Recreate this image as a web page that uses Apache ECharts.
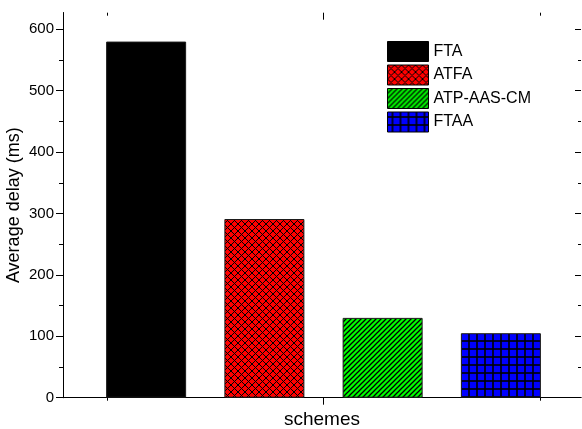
<!DOCTYPE html>
<html>
<head>
<meta charset="utf-8">
<script src="https://cdn.jsdelivr.net/npm/echarts@6/dist/echarts.min.js"></script>
<style>
  html, body { margin: 0; padding: 0; background: #fff; }
  #chart { width: 582px; height: 429px; }
</style>
</head>
<body>
<div id="chart"></div>
<script>
// Average delay per scheme
const schemes = ['FTA', 'ATFA', 'ATP-AAS-CM', 'FTAA'];
const delayMs = [580, 291, 130, 105];
const yTicks = [0, 100, 200, 300, 400, 500, 600];

const FONT = '"Liberation Sans", Arial, sans-serif';

// Hatch fills drawn on small tiles and repeated
function tile(size, bg, draw) {
  const c = document.createElement('canvas');
  c.width = size; c.height = size;
  const g = c.getContext('2d');
  g.fillStyle = bg;
  g.fillRect(0, 0, size, size);
  g.strokeStyle = '#000';
  draw(g, size);
  return { image: c, repeat: 'repeat' };
}
const fills = [
  '#000000',
  tile(7, '#ff0000', (g, s) => {
    g.lineWidth = 1;
    for (const k of [-s, 0, s]) {
      g.beginPath(); g.moveTo(-1, -1 + k); g.lineTo(s + 1, s + 1 + k); g.stroke();
      g.beginPath(); g.moveTo(-1, s + 1 + k); g.lineTo(s + 1, -1 + k); g.stroke();
    }
  }),
  tile(5, '#00ff00', (g, s) => {
    g.lineWidth = 1.3;
    for (const k of [-s, 0, s]) {
      g.beginPath(); g.moveTo(-1, s + 1 + k); g.lineTo(s + 1, -1 + k); g.stroke();
    }
  }),
  tile(8, '#0000ff', (g, s) => {
    g.lineWidth = 1.6;
    g.beginPath(); g.moveTo(5, 0); g.lineTo(5, s); g.stroke();
    g.beginPath(); g.moveTo(0, 5); g.lineTo(s, 5); g.stroke();
  })
];

const lineStyle = { color: '#000', width: 1 };
const G_TOP = 12.7, G_BOTTOM = 31.3, Y600_TOP = 29.3;
const hiddenValue = (gridIndex) => ({ gridIndex, type: 'value', min: 0, max: 1, show: false });
const box = (left, right, top) => ({ left, right, top, bottom: G_BOTTOM, outerBoundsMode: 'none', containLabel: false });

const chart = echarts.init(document.getElementById('chart'), null, { renderer: 'canvas' });

const series = schemes.map((name, i) => ({
  name,
  type: 'bar',
  xAxisIndex: 6,
  yAxisIndex: 4,
  stack: 'all',
  barWidth: 80,
  itemStyle: { color: fills[i], borderColor: '#1a1a1a', borderWidth: 1 },
  data: schemes.map((_, j) => (j === i ? delayMs[i] : '-'))
}));

chart.setOption({
  animation: false,
  backgroundColor: '#fff',
  textStyle: { fontFamily: FONT },
  grid: [
    box(63, 1, G_TOP),        // 0: frame box
    box(63, 1, Y600_TOP),     // 1: y scale
    box(107, 42, G_TOP),      // 2: x ticks
    box(87, 22, Y600_TOP)     // 3: bars
  ],
  xAxis: [
    { gridIndex: 0, type: 'value', position: 'bottom', min: 0, max: 1,
      axisLine: { show: true, lineStyle }, axisTick: { show: false }, axisLabel: { show: false },
      splitLine: { show: false },
      name: 'schemes', nameLocation: 'middle', nameGap: 13,
      nameTextStyle: { fontSize: 19, color: '#000', fontFamily: FONT, verticalAlign: 'top' } },
    { gridIndex: 0, type: 'value', position: 'top', min: 0, max: 1,
      axisLine: { show: true, lineStyle }, axisTick: { show: false }, axisLabel: { show: false },
      splitLine: { show: false } },
    // bottom ticks: long in the middle, short at both ends
    { gridIndex: 2, type: 'category', position: 'bottom', boundaryGap: false, data: ['', '', ''],
      axisLine: { show: false }, axisLabel: { show: false },
      axisTick: { show: true, length: 7, lineStyle, interval: (i) => i === 1 } },
    { gridIndex: 2, type: 'category', position: 'bottom', boundaryGap: false, data: ['', '', ''],
      axisLine: { show: false }, axisLabel: { show: false },
      axisTick: { show: true, length: 3, lineStyle, interval: (i) => i !== 1 } },
    // top ticks, pointing inward
    { gridIndex: 2, type: 'category', position: 'top', boundaryGap: false, data: ['', '', ''],
      axisLine: { show: false }, axisLabel: { show: false },
      axisTick: { show: true, inside: true, length: 7, lineStyle, interval: (i) => i === 1 } },
    { gridIndex: 2, type: 'category', position: 'top', boundaryGap: false, data: ['', '', ''],
      axisLine: { show: false }, axisLabel: { show: false },
      axisTick: { show: true, inside: true, length: 3, lineStyle, interval: (i) => i !== 1 } },
    // bars
    { gridIndex: 3, type: 'category', data: schemes, show: false },
    hiddenValue(1)
  ],
  yAxis: [
    { gridIndex: 0, type: 'value', position: 'left', min: 0, max: 1,
      axisLine: { show: true, lineStyle }, axisTick: { show: false }, axisLabel: { show: false },
      splitLine: { show: false },
      name: 'Average delay (ms)', nameLocation: 'middle', nameGap: 40,
      nameTextStyle: { fontSize: 18, color: '#000', fontFamily: FONT } },
    { gridIndex: 0, type: 'value', position: 'right', min: 0, max: 1,
      axisLine: { show: true, lineStyle }, axisTick: { show: false }, axisLabel: { show: false },
      splitLine: { show: false } },
    { gridIndex: 1, type: 'value', position: 'left', min: yTicks[0], max: yTicks[yTicks.length - 1], interval: 100,
      axisLine: { show: false },
      axisTick: { show: true, length: 7, lineStyle },
      minorTick: { show: true, splitNumber: 2, length: 4, lineStyle },
      axisLabel: { show: true, margin: 9, fontSize: 15, color: '#000', fontFamily: FONT },
      splitLine: { show: false } },
    { gridIndex: 1, type: 'value', position: 'right', min: yTicks[0], max: yTicks[yTicks.length - 1], interval: 100,
      axisLine: { show: false },
      axisTick: { show: true, inside: true, length: 6, lineStyle },
      minorTick: { show: true, splitNumber: 2, length: 3, lineStyle },
      axisLabel: { show: false },
      splitLine: { show: false } },
    { gridIndex: 3, type: 'value', min: yTicks[0], max: yTicks[yTicks.length - 1], show: false },
    hiddenValue(2)
  ],
  legend: {
    orient: 'vertical',
    left: 382,
    top: 36,
    icon: 'rect',
    itemWidth: 41,
    itemHeight: 20,
    itemGap: 2.5,
    itemStyle: { borderColor: '#000', borderWidth: 1 },
    textStyle: { fontSize: 16, color: '#000', fontFamily: FONT },
    data: schemes
  },
  series
});
</script>
</body>
</html>
